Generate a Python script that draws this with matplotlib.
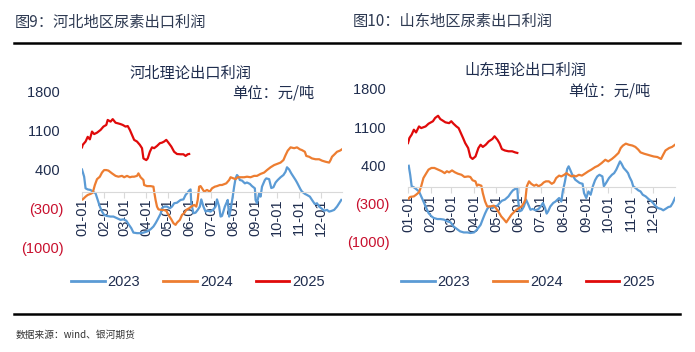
import numpy as np
import matplotlib
matplotlib.use("Agg")
import matplotlib.pyplot as plt
from matplotlib.lines import Line2D

plt.rcParams['font.family'] = ['Liberation Sans', 'Noto Sans CJK SC', 'DejaVu Sans']

# month ticks (day of year)
month_days = [0, 31, 59, 90, 120, 151, 181, 212, 243, 273, 304, 334]
month_labels = ["01-01", "02-01", "03-01", "04-01", "05-01", "06-01",
                "07-01", "08-01", "09-01", "10-01", "11-01", "12-01"]
years = ["2023", "2024", "2025"]

# ---------------- Hebei ----------------
hb_2023_day = [0, 3, 5, 8, 12, 15, 19, 22, 25, 28, 31, 35, 40, 44, 49, 54, 58, 62, 65, 69,
               72, 77, 82, 86, 91, 96, 100, 103, 106, 110, 112, 115, 119, 123, 126, 129, 133, 138, 142, 145,
               147, 150, 152, 153, 156, 159, 162, 165, 167, 170, 173, 176, 180, 184, 187, 189, 192, 194, 196, 200,
               202, 204, 206, 208, 211, 213, 215, 217, 219, 221, 224, 228, 231, 235, 238, 242, 243, 245, 248, 250,
               252, 256, 258, 262, 265, 268, 271, 274, 278, 282, 285, 287, 290, 293, 296, 299, 301, 304, 306, 308,
               312, 315, 319, 322, 326, 329, 332, 335, 339, 343, 346, 349, 353, 357, 360, 363]
hb_2023 = [400, 270, 60, 40, 30, 0, -30, -150, -270, -360, -420, -440, -450, -450, -480, -510, -500, -525, -585, -660,
           -740, -750, -750, -740, -720, -680, -630, -570, -500, -400, -300, -270, -270, -300, -270, -210, -200, -150, -140, -60,
           -30, 20, 40, -210, -390, -380, -330, -270, -140, -270, -360, -345, -360, -320, -270, -140, -270, -450, -440, -270,
           -210, -150, -450, -330, -90, 90, 240, 300, 270, 210, 200, 150, 165, 140, 100, 60, -150, -210, -30, -90,
           90, 210, 240, 225, 65, 80, 165, 210, 260, 300, 360, 440, 400, 330, 270, 210, 165, 90, 40, 0,
           -40, -60, -90, -150, -225, -210, -270, -300, -345, -330, -360, -350, -330, -270, -210, -150]

hb_2024_day = [1, 5, 8, 12, 15, 18, 21, 25, 28, 31, 34, 37, 42, 47, 51, 56, 59, 63, 67, 70,
               73, 77, 79, 82, 86, 87, 91, 96, 100, 101, 103, 105, 107, 111, 114, 118, 121, 125, 128, 131,
               133, 137, 140, 143, 146, 150, 153, 157, 160, 162, 164, 166, 168, 171, 175, 179, 182, 186, 189, 193,
               196, 200, 202, 206, 208, 212, 215, 218, 222, 227, 231, 236, 241, 245, 250, 255, 259, 264, 269, 273,
               278, 282, 285, 288, 292, 297, 301, 305, 308, 312, 314, 318, 322, 327, 332, 336, 341, 346, 348, 350,
               354, 357, 361, 364]
hb_2024 = [-140, -90, -60, -40, -20, 120, 225, 270, 345, 390, 390, 380, 330, 285, 270, 285, 260, 285, 260, 270,
           270, 285, 330, 260, 210, 120, 100, 100, 90, 0, -150, -270, -320, -330, -330, -345, -420, -500, -570, -600,
           -560, -510, -420, -390, -330, -300, -270, -240, -270, -150, 90, 100, 60, 0, 30, 0, 60, 90, 100, 120,
           120, 140, 150, 210, 260, 240, 225, 260, 260, 260, 270, 260, 285, 285, 320, 345, 390, 440, 480, 500,
           525, 570, 660, 740, 800, 785, 800, 765, 750, 720, 645, 630, 600, 585, 585, 560, 540, 525, 570, 630,
           680, 720, 740, 765]

hb_2025_day = [0, 1, 5, 8, 11, 14, 17, 21, 26, 30, 34, 36, 40, 43, 47, 50, 54, 57, 61, 64,
               67, 70, 73, 77, 81, 84, 86, 90, 92, 95, 98, 101, 105, 109, 112, 115, 118, 121, 125, 129,
               133, 138, 142, 145, 148, 150]
hb_2025 = [800, 845, 905, 990, 945, 1085, 1040, 1065, 1115, 1175, 1205, 1295, 1265, 1310, 1245, 1235, 1220, 1205, 1175, 1185,
           1115, 1025, 935, 905, 845, 785, 600, 570, 600, 720, 800, 785, 825, 875, 885, 905, 935, 885, 815, 720,
           680, 675, 675, 645, 675, 680]

# ---------------- Shandong ----------------
sd_2023_day = [1, 3, 5, 8, 11, 15, 17, 20, 24, 28, 32, 35, 40, 44, 49, 53, 58, 62, 67, 71,
               76, 81, 85, 90, 94, 99, 102, 105, 108, 111, 115, 118, 122, 125, 128, 132, 137, 140, 143, 146,
               149, 150, 152, 155, 158, 161, 164, 167, 170, 174, 178, 181, 184, 187, 189, 191, 194, 198, 201, 206,
               209, 211, 214, 217, 219, 221, 224, 228, 231, 234, 238, 240, 243, 246, 249, 252, 255, 258, 261, 265,
               267, 270, 274, 278, 281, 284, 287, 289, 291, 294, 298, 300, 302, 305, 307, 310, 314, 317, 320, 324,
               328, 331, 334, 338, 341, 345, 348, 351, 355, 358, 361, 364]
sd_2023 = [395, 230, 20, 0, -30, -75, -135, -225, -350, -470, -530, -560, -580, -580, -590, -620, -640, -715, -765, -805,
           -825, -825, -835, -825, -775, -685, -580, -480, -395, -350, -380, -350, -335, -285, -245, -225, -165, -105, -55, -30,
           -10, -225, -440, -420, -350, -225, -315, -410, -395, -420, -395, -350, -285, -380, -480, -440, -350, -285, -260, -195,
           -260, -75, 110, 335, 385, 325, 230, 140, 110, 80, 65, -105, -195, -75, -135, 20, 130, 200, 230, 200,
           20, 80, 170, 230, 260, 325, 415, 475, 435, 355, 295, 260, 190, 110, 20, -10, -55, -75, -135, -165,
           -215, -245, -285, -350, -380, -395, -420, -395, -360, -350, -285, -195]

sd_2024_day = [0, 3, 8, 11, 15, 18, 21, 25, 28, 32, 36, 41, 46, 50, 53, 56, 60, 64, 68, 73,
               77, 82, 85, 88, 92, 94, 96, 100, 102, 105, 108, 112, 117, 120, 124, 127, 131, 134, 137, 141,
               144, 147, 151, 155, 158, 160, 162, 165, 168, 172, 175, 178, 182, 185, 188, 192, 196, 199, 202, 206,
               209, 213, 216, 219, 223, 226, 229, 233, 237, 241, 246, 250, 255, 259, 264, 269, 273, 278, 282, 287,
               290, 293, 297, 301, 306, 310, 314, 317, 322, 326, 331, 335, 340, 345, 348, 351, 356, 360, 364]
sd_2024 = [-215, -175, -165, -135, -90, 20, 170, 260, 325, 355, 355, 325, 295, 260, 295, 275, 310, 275, 250, 230,
           190, 200, 190, 130, 110, 30, 50, 30, -105, -255, -350, -350, -335, -380, -460, -530, -590, -640, -580, -500,
           -460, -420, -380, -350, -285, -225, 20, 110, 65, 30, 50, 20, 50, 90, 110, 110, 65, 90, 170, 215,
           200, 230, 260, 230, 200, 215, 200, 230, 215, 250, 295, 325, 370, 395, 445, 505, 475, 520, 565, 630,
           720, 765, 800, 780, 765, 740, 690, 640, 615, 600, 580, 565, 555, 520, 600, 675, 720, 740, 780]

sd_2025_day = [0, 2, 5, 8, 11, 15, 18, 24, 28, 34, 37, 41, 44, 47, 51, 56, 59, 62, 66, 69,
               71, 75, 78, 82, 85, 88, 92, 96, 99, 102, 106, 110, 115, 118, 122, 125, 128, 132, 137, 142,
               146, 149]
sd_2025 = [810, 905, 965, 1055, 1005, 1115, 1085, 1115, 1165, 1210, 1270, 1310, 1250, 1225, 1190, 1175, 1210, 1165, 1115, 1085,
           1025, 905, 810, 720, 555, 520, 565, 720, 780, 740, 780, 840, 885, 935, 870, 800, 700, 675, 660, 660,
           640, 630]

colors = ["#5B9BD5", "#ED7D31", "#E00A0A"]
navy = "#1F2D4E"
neg_red = "#C8102E"
yticks = [1800, 1100, 400, -300, -1000]


def yfmt(v):
    return "(%d)" % abs(v) if v < 0 else "%d " % v


def draw_panel(ax, series, title, tx, ty):
    for (d, v), c in zip(series, colors):
        ax.plot(d, v, color=c, lw=1.6)
    ax.set_xlim(0, 364)
    ax.set_ylim(-1000, 1800)
    for s in ["top", "right", "left"]:
        ax.spines[s].set_visible(False)
    ax.spines["bottom"].set_position(("data", 0))
    ax.spines["bottom"].set_color("#D9D9D9")
    ax.set_xticks(month_days)
    ax.set_xticklabels(month_labels, rotation=90, fontsize=10.5, color=navy)
    ax.tick_params(axis="x", length=4, color="#D9D9D9", pad=1)
    ax.set_yticks(yticks)
    ax.set_yticklabels([yfmt(v) for v in yticks], fontsize=10.5)
    ax.tick_params(axis="y", length=0, pad=13)
    for lab, v in zip(ax.get_yticklabels(), yticks):
        lab.set_color(neg_red if v < 0 else navy)
    ax.patch.set_alpha(0)
    fig.text(tx, ty, title, fontsize=11, color=navy, ha="center", va="center",
             family=["Noto Sans CJK SC"])


fig = plt.figure(figsize=(6.95, 3.52), dpi=100)
W, H = 695.0, 352.0

ax1 = fig.add_axes([82 / W, 1 - 247 / H, 260 / W, 155 / H])
ax2 = fig.add_axes([408 / W, 1 - 242 / H, 267 / W, 153 / H])

draw_panel(ax1, [(hb_2023_day, hb_2023), (hb_2024_day, hb_2024), (hb_2025_day, hb_2025)],
           "河北理论出口利润", 190 / W, 1 - 73 / H)
draw_panel(ax2, [(sd_2023_day, sd_2023), (sd_2024_day, sd_2024), (sd_2025_day, sd_2025)],
           "山东理论出口利润", 525 / W, 1 - 70 / H)

# unit labels
fig.text(232 / W, 1 - 93 / H, "单位：元/吨", fontsize=11, color=navy, va="center",
         family=["Noto Sans CJK SC"])
fig.text(568 / W, 1 - 91 / H, "单位：元/吨", fontsize=11, color=navy, va="center",
         family=["Noto Sans CJK SC"])

# figure titles
fig.text(15 / W, 1 - 22 / H, "图9：河北地区尿素出口利润", fontsize=11, color="#2E3A52",
         va="center", family=["Noto Sans CJK SC"])
fig.text(353 / W, 1 - 21 / H, "图10：山东地区尿素出口利润", fontsize=11, color="#2E3A52",
         va="center", family=["Noto Sans CJK SC"])

# black rules
fig.add_artist(Line2D([14 / W, 680 / W], [1 - 43 / H, 1 - 43 / H], color="black", lw=1.8))
fig.add_artist(Line2D([14 / W, 680 / W], [1 - 314 / H, 1 - 314 / H], color="black", lw=1.8))

# legends
handles = [Line2D([], [], color=c, lw=2) for c in colors]
for cx in [198 / W, 528 / W]:
    leg = fig.legend(handles, years, loc="center", bbox_to_anchor=(cx, 1 - 282 / H), ncol=3,
                     frameon=False, fontsize=10.5, handlelength=2.3, handletextpad=0.2,
                     columnspacing=1.6)
    for t in leg.get_texts():
        t.set_color(navy)

fig.text(16 / W, 1 - 335 / H, "数据来源：wind、银河期货", fontsize=7, color="#333333",
         va="center", family=["Noto Sans CJK SC"])

fig.savefig("out.png", dpi=100)
